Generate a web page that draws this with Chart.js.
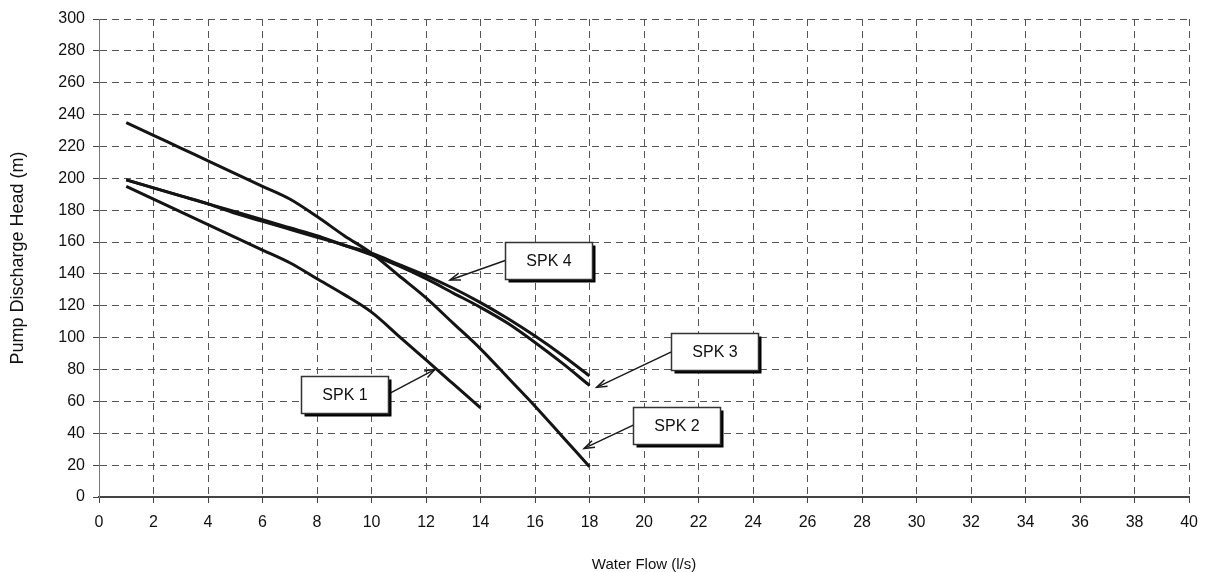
<!DOCTYPE html>
<html>
<head>
<meta charset="utf-8">
<script src="https://cdn.jsdelivr.net/npm/chart.js@4.4.1/dist/chart.umd.min.js"></script>
<style>
  html, body { margin: 0; padding: 0; background: #fff; }
  #wrap { width: 1208px; height: 572px; }
</style>
</head>
<body>
<div id="wrap"><canvas id="pumpChart"></canvas></div>
<script>
// water flow (l/s) for each curve
const flowShort = [1, 2, 3, 4, 5, 6, 7, 8, 9, 10, 11, 12, 13, 14];
const flowLong = [1, 2, 3, 4, 5, 6, 7, 8, 9, 10, 11, 12, 13, 14, 15, 16, 17, 18];

// pump discharge head (m)
const spk1 = [195, 187, 179, 171, 163, 155, 147, 137, 127, 116, 101, 86, 71, 56];
const spk2 = [235, 227, 219, 211, 203, 195, 187, 176, 164, 153, 139, 125, 109, 93, 75, 57, 38, 19];
const spk3 = [199, 194, 189, 184, 178, 173, 168, 163, 158, 152, 145, 137, 128, 119, 109, 97, 84, 70];
const spk4 = [199, 194, 189, 184, 179, 174, 169, 164, 158, 153, 146, 139, 131, 122, 112, 101, 89, 76];

// callout labels (box centre and arrow tip in data units)
const calloutText = ["SPK 1", "SPK 2", "SPK 3", "SPK 4"];
const calloutBoxX = [9.0, 21.2, 22.6, 16.5];
const calloutBoxY = [64.4, 45.1, 91.1, 148.4];
const calloutTipX = [12.33, 17.8, 18.26, 12.88];
const calloutTipY = [80.1, 30.5, 68.8, 136.2];

const xTicksMax = 40;
const yTicksMax = 300;

Chart.defaults.font.family = "'Liberation Sans', Arial, sans-serif";
Chart.defaults.color = "#111";

function toPoints(xs, ys) {
    return ys.map((y, i) => ({ x: xs[i], y: y }));
}

function curve(label, xs, ys) {
    return {
        label: label,
        data: toPoints(xs, ys),
        borderColor: "#141414",
        borderWidth: 3,
        pointRadius: 0,
        fill: false,
        cubicInterpolationMode: "monotone"
    };
}

const calloutPlugin = {
    id: "callouts",
    afterDatasetsDraw(chart) {
        const ctx = chart.ctx;
        const xs = chart.scales.x;
        const ys = chart.scales.y;
        const w = 87, h = 37;
        ctx.save();
        for (let i = 0; i < calloutText.length; i++) {
            const cx = xs.getPixelForValue(calloutBoxX[i]);
            const cy = ys.getPixelForValue(calloutBoxY[i]);
            const tx = xs.getPixelForValue(calloutTipX[i]);
            const ty = ys.getPixelForValue(calloutTipY[i]);
            const sx = tx > cx ? cx + w / 2 : cx - w / 2;
            const sy = cy;

            // arrow line
            ctx.strokeStyle = "#1a1a1a";
            ctx.lineWidth = 1.5;
            ctx.beginPath();
            ctx.moveTo(sx, sy);
            ctx.lineTo(tx, ty);
            ctx.stroke();

            // arrow head
            const ang = Math.atan2(ty - sy, tx - sx);
            const len = 11, spread = 0.33;
            ctx.beginPath();
            ctx.moveTo(tx - len * Math.cos(ang - spread), ty - len * Math.sin(ang - spread));
            ctx.lineTo(tx, ty);
            ctx.lineTo(tx - len * Math.cos(ang + spread), ty - len * Math.sin(ang + spread));
            ctx.stroke();

            // box with shadow
            const bx = Math.round(cx - w / 2) + 0.5;
            const by = Math.round(cy - h / 2) + 0.5;
            ctx.fillStyle = "#000";
            ctx.fillRect(bx + 3, by + 3, w, h);
            ctx.fillStyle = "#fff";
            ctx.fillRect(bx, by, w, h);
            ctx.strokeStyle = "#333";
            ctx.lineWidth = 1.5;
            ctx.strokeRect(bx, by, w, h);

            ctx.fillStyle = "#111";
            ctx.font = "16px 'Liberation Sans', Arial, sans-serif";
            ctx.textAlign = "center";
            ctx.textBaseline = "middle";
            ctx.fillText(calloutText[i], bx + w / 2, by + h / 2 + 1);
        }
        ctx.restore();
    }
};

const ctx = document.getElementById("pumpChart").getContext("2d");
new Chart(ctx, {
    type: "line",
    data: {
        datasets: [
            curve("SPK 1", flowShort, spk1),
            curve("SPK 2", flowLong, spk2),
            curve("SPK 3", flowLong, spk3),
            curve("SPK 4", flowLong, spk4)
        ]
    },
    options: {
        responsive: true,
        maintainAspectRatio: false,
        animation: false,
        layout: { padding: { top: 19, right: 10, left: 0, bottom: 0 } },
        plugins: {
            legend: { display: false },
            tooltip: { enabled: false }
        },
        scales: {
            x: {
                type: "linear",
                min: 0,
                max: xTicksMax,
                afterFit: s => { s.height = 75; },
                ticks: { stepSize: 2, padding: 10, font: { size: 16 }, color: "#111" },
                grid: {
                    color: "#555",
                    lineWidth: 1,
                    tickLength: 6,
                    tickColor: "#444",
                    tickBorderDash: []
                },
                border: { display: true, color: "#444", width: 2, dash: [7, 5] },
                title: {
                    display: true,
                    text: "Water Flow (l/s)",
                    font: { size: 15, lineHeight: 1 },
                    color: "#111",
                    padding: { top: 0, bottom: 0 }
                }
            },
            y: {
                min: 0,
                max: yTicksMax,
                afterFit: s => { s.width = 99; },
                ticks: { stepSize: 20, padding: 8, font: { size: 16 }, color: "#111" },
                grid: {
                    color: "#555",
                    lineWidth: 1,
                    tickLength: 6,
                    tickColor: "#444",
                    tickBorderDash: []
                },
                border: { display: true, color: "#777", width: 1, dash: [7, 5] },
                title: {
                    display: true,
                    text: "Pump Discharge Head (m)",
                    font: { size: 18 },
                    color: "#111",
                    padding: { top: 7, bottom: 0 }
                }
            }
        }
    },
    plugins: [calloutPlugin]
});
</script>
</body>
</html>
